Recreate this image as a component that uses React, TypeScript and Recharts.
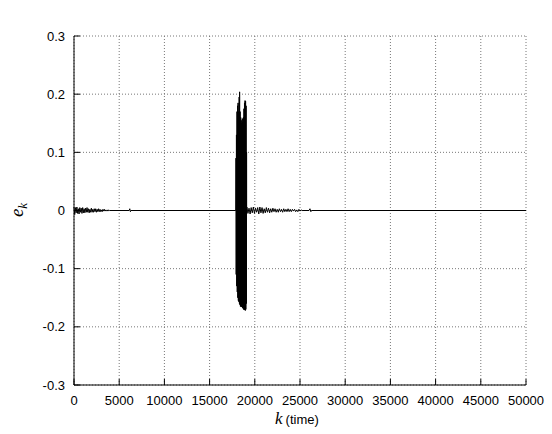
import { LineChart, Line, XAxis, YAxis, CartesianGrid } from 'recharts';

// sample index k and residual e_k
const kEarly = [0, 80, 160, 240, 320, 400, 480, 560, 640, 720, 800, 880, 960, 1040, 1120, 1200, 1280, 1360, 1440, 1520, 1600, 1680, 1760, 1840, 1920, 2000, 2080, 2160, 2240, 2320, 2400, 2480, 2560, 2640, 2720, 2800, 2880, 2960, 3040, 3120, 3200, 3280, 3360, 3440, 3520, 3600, 3680, 3760, 3840, 3920, 6100, 6170, 6240, 6300];
const eEarly = [0.006, -0.007, 0.005, -0.004, 0.006, -0.005, 0.003, -0.006, 0.005, -0.003, 0.004, -0.005, 0.005, -0.004, 0.003, -0.004, 0.004, -0.003, 0.005, -0.003, 0.003, -0.004, 0.002, -0.003, 0.004, -0.003, 0.002, -0.003, 0.003, -0.002, 0.003, -0.003, 0.002, -0.002, 0.003, -0.002, 0.002, -0.002, 0.001, -0.002, 0.002, -0.001, 0.002, -0.001, 0.001, -0.001, 0.001, -0.001, 0.001, 0, 0, 0.003, -0.002, 0];

const kBurst = [17900, 17920, 17940, 17970, 18000, 18030, 18060, 18090, 18120, 18150, 18180, 18210, 18240, 18270, 18300, 18320, 18350, 18380, 18410, 18440, 18470, 18500, 18530, 18560, 18590, 18620, 18650, 18680, 18710, 18740, 18770, 18800, 18830, 18860, 18890, 18920, 18950, 18980, 19010, 19040, 19070, 19090, 19100];
const eBurst = [0, 0.09, -0.11, 0.13, -0.13, 0.17, -0.14, 0.18, -0.15, 0.185, -0.155, 0.17, -0.157, 0.195, -0.16, 0.204, -0.162, 0.17, -0.165, 0.16, -0.165, 0.155, -0.166, 0.15, -0.165, 0.158, -0.168, 0.152, -0.166, 0.16, -0.17, 0.175, -0.171, 0.185, -0.17, 0.189, -0.172, 0.188, -0.17, 0.18, -0.16, 0.1, 0];

const kLate = [19120, 19240, 19360, 19480, 19600, 19720, 19840, 19960, 20080, 20200, 20320, 20440, 20560, 20680, 20800, 20920, 21040, 21160, 21280, 21400, 21520, 21640, 21760, 21880, 22000, 22120, 22240, 22360, 22480, 22600, 22720, 22840, 22960, 23080, 23200, 23320, 23440, 23560, 23680, 23800, 23920, 24040, 24160, 24280, 24400, 24520, 24640, 24760, 24880, 25000, 25120, 25240, 26000, 26100, 26200, 26300, 50000];
const eLate = [0.006, -0.005, 0.004, -0.006, 0.005, -0.004, 0.006, -0.005, 0.004, -0.003, 0.005, -0.006, 0.006, -0.004, 0.005, -0.005, 0.003, -0.004, 0.005, -0.003, 0.004, -0.004, 0.003, -0.003, 0.004, -0.002, 0.003, -0.003, 0.002, -0.003, 0.003, -0.002, 0.002, -0.003, 0.003, -0.002, 0.002, -0.002, 0.003, -0.002, 0.002, -0.002, 0.002, -0.001, 0.002, -0.002, 0.001, -0.002, 0.002, -0.001, 0.001, 0, 0, 0.003, -0.002, 0, 0];

const xTicks = [0, 5000, 10000, 15000, 20000, 25000, 30000, 35000, 40000, 45000, 50000];
const yTicks = [-0.3, -0.2, -0.1, 0, 0.1, 0.2, 0.3];

const kAll = [...kEarly, ...kBurst, ...kLate];
const eAll = [...eEarly, ...eBurst, ...eLate];
const data = kAll.map((k, i) => ({ k, e: eAll[i] }));

const font = '"Liberation Sans", Arial, sans-serif';
const serif = '"Liberation Serif", "Times New Roman", serif';
const tickStyle = { fontFamily: font, fontSize: 13, fill: '#000' };
const noTick = () => <g />;

export default function App() {
  return (
    <div style={{ position: 'absolute', left: 0, top: 0, width: 552, height: 434, background: '#fff' }}>
      <LineChart width={552} height={434} data={data} margin={{ top: 36, right: 26, bottom: 0, left: 0 }}>
        <CartesianGrid stroke="#777" strokeDasharray="1 2" />
        <XAxis
          dataKey="k"
          type="number"
          domain={[0, 50000]}
          ticks={xTicks}
          height={49}
          tickSize={-6}
          tickMargin={17}
          tick={tickStyle}
          axisLine={{ stroke: '#000' }}
          tickLine={{ stroke: '#000' }}
          label={{
            content: () => (
              <text x={275} y={424} fill="#000">
                <tspan fontFamily={serif} fontStyle="italic" fontSize={17}>k</tspan>
                <tspan dx={3} fontFamily={font} fontSize={13}>(time)</tspan>
              </text>
            ),
          }}
        />
        <XAxis
          xAxisId="top"
          orientation="top"
          type="number"
          domain={[0, 50000]}
          ticks={xTicks}
          height={0}
          tickSize={-6}
          tick={noTick}
          axisLine={{ stroke: '#000' }}
          tickLine={{ stroke: '#000' }}
          label={{
            content: () => (
              <text x={300} y={21.5} textAnchor="middle" fontFamily={font} fontSize={13} fill="#000">
                Residual echo
              </text>
            ),
          }}
        />
        <YAxis
          type="number"
          domain={[-0.3, 0.3]}
          ticks={yTicks}
          width={74}
          tickSize={-6}
          tickMargin={15}
          tick={tickStyle}
          axisLine={{ stroke: '#000' }}
          tickLine={{ stroke: '#000' }}
          label={{
            content: () => (
              <text x={23} y={210} transform="rotate(-90, 23, 210)" textAnchor="middle" fill="#000"
                fontFamily={serif} fontStyle="italic">
                <tspan fontSize={19}>e</tspan>
                <tspan fontSize={13} dy={4}>k</tspan>
              </text>
            ),
          }}
        />
        <YAxis
          yAxisId="right"
          orientation="right"
          type="number"
          domain={[-0.3, 0.3]}
          ticks={yTicks}
          width={0}
          tickSize={-6}
          tick={noTick}
          axisLine={{ stroke: '#000' }}
          tickLine={{ stroke: '#000' }}
        />
        <Line
          type="linear"
          dataKey="e"
          stroke="#000"
          strokeWidth={1}
          dot={false}
          isAnimationActive={false}
        />
      </LineChart>
    </div>
  );
}
